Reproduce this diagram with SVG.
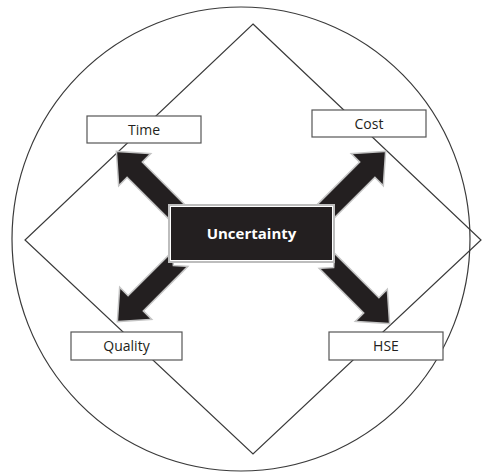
<svg xmlns="http://www.w3.org/2000/svg" width="482" height="475" viewBox="0 0 482 475">
<style>
.frame{fill:none;stroke:#3a3a3a;stroke-width:1.2}
.box{fill:#fff;stroke:#555;stroke-width:1.2}
.lbl{font-family:"Open Sans","Liberation Sans",sans-serif;font-size:14px;fill:#231f20;text-anchor:middle}
.arr{fill:#231f20;stroke:#c4c4c4;stroke-width:3;paint-order:stroke;stroke-linejoin:miter}
</style>
<defs>
<polygon id="arrow" points="0,-10 62,-10 62,-21 86,0 62,21 62,10 0,10 9,0"/>
</defs>
<g id="background">
<ellipse class="frame" cx="241" cy="239" rx="229" ry="232"/>
<polygon class="frame" points="253,24 481,240 253,454 25,240"/>
</g>
<g id="connectors">
<use href="#arrow" class="arr" transform="translate(178,213) rotate(-135)"/>
<use href="#arrow" class="arr" transform="translate(324,213) rotate(-45)"/>
<use href="#arrow" class="arr" transform="translate(179,260) rotate(135)"/>
<use href="#arrow" class="arr" transform="translate(328,262) rotate(45)"/>
</g>
<g id="time">
<rect class="box" x="87" y="116" width="114" height="27"/>
<text class="lbl" x="144" y="134.5">Time</text>
</g>
<g id="cost">
<rect class="box" x="312" y="110" width="114" height="27"/>
<text class="lbl" x="369" y="128.5">Cost</text>
</g>
<g id="quality">
<rect class="box" x="71" y="332" width="111" height="28"/>
<text class="lbl" x="126.5" y="351">Quality</text>
</g>
<g id="hse">
<rect class="box" x="329" y="332" width="114" height="28"/>
<text class="lbl" x="386" y="351">HSE</text>
</g>
<g id="uncertainty">
<rect x="169" y="205" width="165" height="57" fill="#fff" stroke="#bdbdbd" stroke-width="2"/>
<rect x="171" y="207" width="161" height="53" fill="#231f20"/>
<text class="lbl" x="251.5" y="239" style="fill:#fff;font-weight:bold;font-size:15px">Uncertainty</text>
</g>
</svg>
